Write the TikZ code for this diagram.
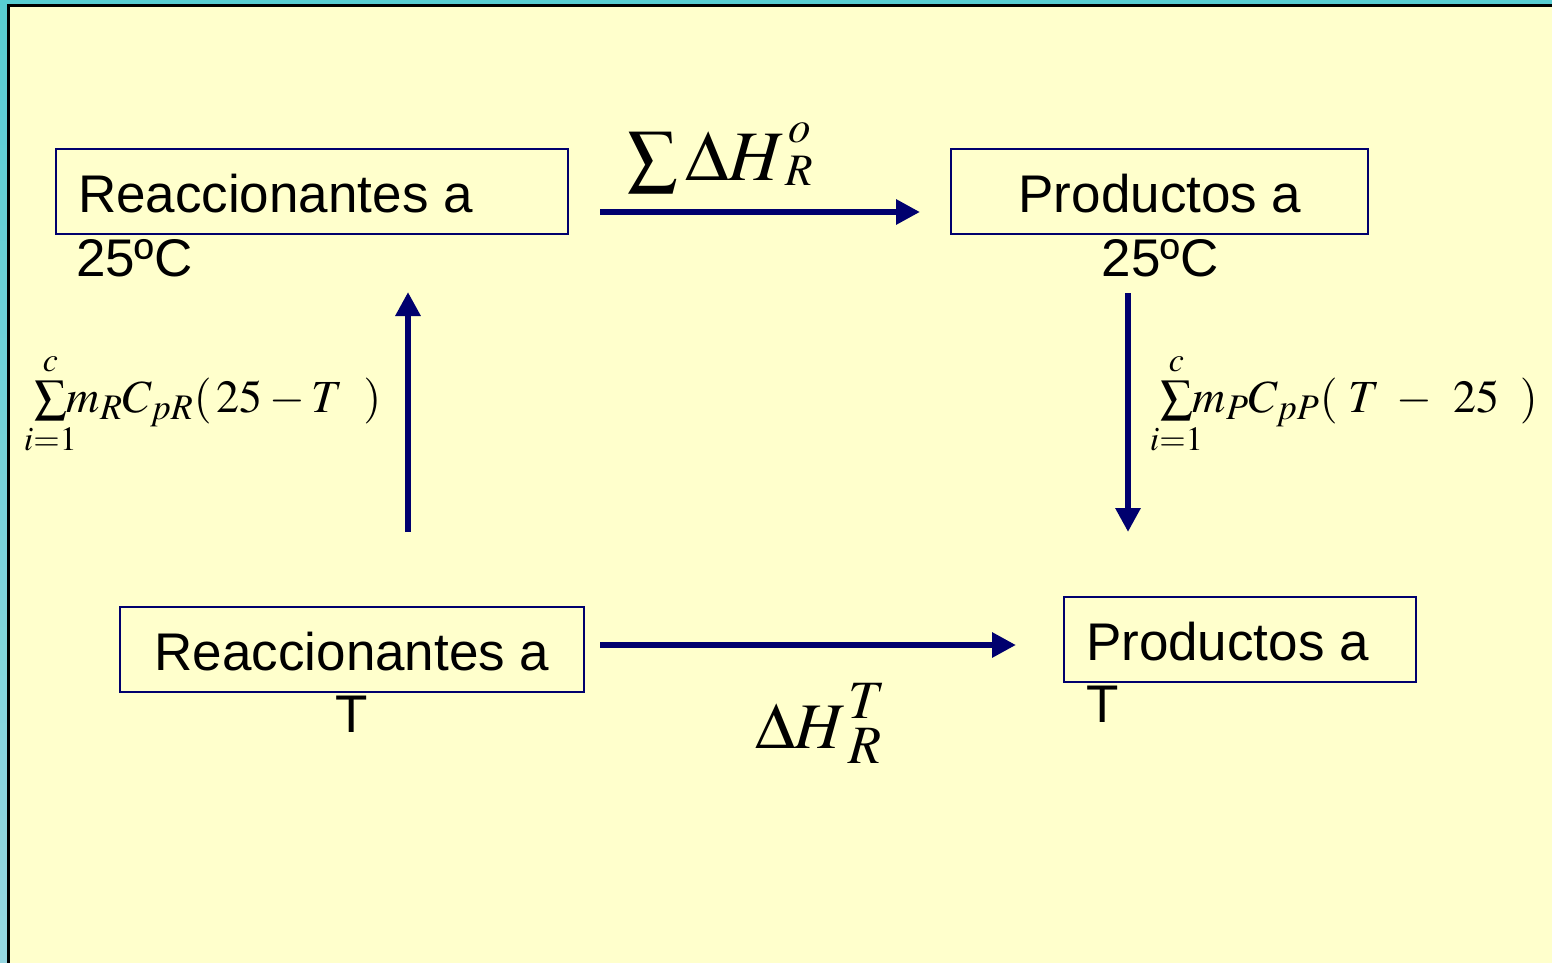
\documentclass[tikz,border=0pt]{standalone}
\usepackage{mathptmx}
\usepackage[no-math]{fontspec}
\setmainfont{Liberation Sans}
\usetikzlibrary{arrows.meta}
\DeclareMathSizes{23}{23}{18}{14}
\definecolor{navy}{RGB}{0,0,110}
\definecolor{bgyellow}{RGB}{255,255,204}
\definecolor{tealA}{RGB}{88,205,210}
\definecolor{tealB}{RGB}{150,215,225}
\newcommand{\climits}[1]{\makebox[0pt]{\fontsize{17}{20}\selectfont$#1$}}
\newcommand{\scr}[2]{{\fontsize{#1}{#1}\selectfont$#2$}}
\begin{document}
\begin{tikzpicture}[x=0.5pt,y=-0.5pt,
  boxs/.style={draw=navy,line width=0.8pt,inner sep=0pt,outer sep=0pt,anchor=north west,minimum height=42.5pt},
  lbl/.style={inner sep=0pt,outer sep=0pt,font=\fontsize{26.5}{32}\selectfont},
  mtop/.style={inner sep=0pt,outer sep=0pt,anchor=base west,font=\fontsize{35.5}{40}\selectfont},
  mbot/.style={inner sep=0pt,outer sep=0pt,anchor=base west,font=\fontsize{32.5}{38}\selectfont},
  msmall/.style={inner sep=0pt,outer sep=0pt,anchor=base west,font=\fontsize{23}{27}\selectfont},
  arr/.style={draw=navy,line width=3pt,-{Triangle[length=12pt,width=12pt]}}]
% background and frame
\useasboundingbox (0,0) rectangle (1552,963);
\shade[top color=tealA,bottom color=tealB] (0,0) rectangle (1552,963);
\fill[bgyellow] (7,4) rectangle (1552,963);
\draw[black,line width=1.2pt] (8.5,963) -- (8.5,5.5) -- (1552,5.5);
% boxes
\node[boxs,minimum width=256pt] (b1) at (56,149) {};
\node[boxs,minimum width=208.5pt] (b2) at (951,149) {};
\node[boxs,minimum width=232pt] (b3) at (120,607) {};
\node[boxs,minimum width=176pt] (b4) at (1064,597) {};
% box texts
\node[lbl,anchor=base west] (b1a) at (78,212) {Reaccionantes a};
\node[lbl,anchor=base west] (b1b) at (76,276) {25ºC};
\node[lbl,anchor=base] (b2a) at (1160,212) {Productos a};
\node[lbl,anchor=base] (b2b) at (1160,276) {25ºC};
\node[lbl,anchor=base] (b3a) at (352,670) {Reaccionantes a};
\node[lbl,anchor=base] (b3b) at (352,732) {T};
\node[lbl,anchor=base west] (b4a) at (1086,660) {Productos a};
\node[lbl,anchor=base west] (b4b) at (1086,722) {T};
% arrow end points
\coordinate (t0) at (600,212);
\coordinate (t1) at (920,212);
\coordinate (d0) at (600,645);
\coordinate (d1) at (1016,645);
\coordinate (l0) at (408,532);
\coordinate (l1) at (408,292);
\coordinate (r0) at (1128,293);
\coordinate (r1) at (1128,532);
\draw[arr] (t0) -- (t1);
\draw[arr] (d0) -- (d1);
\draw[arr] (l0) -- (l1);
\draw[arr] (r0) -- (r1);
% math labels
\node[mtop] (mt) at (627,180) {$\sum\Delta H$\rlap{\hspace{1.5pt}\raisebox{19pt}{\scr{22.5}{o}}}\raisebox{-2.5pt}{\scr{22.5}{R}}};
\node[mbot] (mb) at (755,748) {$\Delta H$\hspace{1pt}\rlap{\raisebox{15pt}{\scr{27}{T}}}\raisebox{-7.5pt}{\scr{27}{R}}};
\node[msmall] (ml) at (34,412) {$\sum\limits_{\climits{i{=}1}}^{\climits{c}}\!m_RC_{pR}(\,25-T\;\;)$};
\node[msmall] (mr) at (1160,412) {$\sum\limits_{\climits{i{=}1}}^{\climits{c}}\!m_PC_{pP}(\;T\;-\;\,25\;\;)$};
\end{tikzpicture}
\end{document}
